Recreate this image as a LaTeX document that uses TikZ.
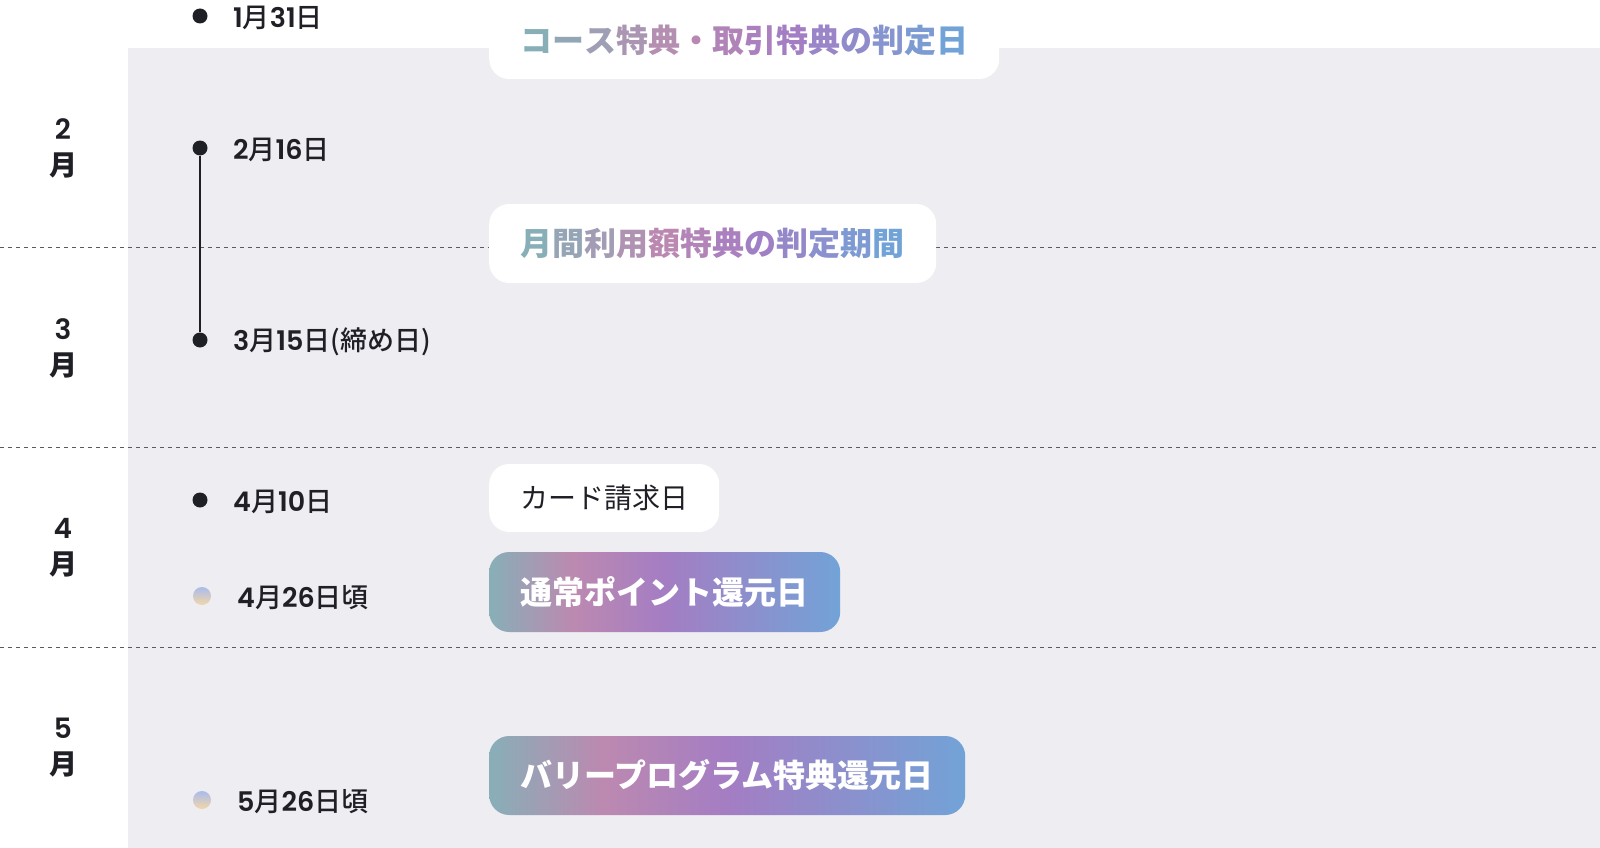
\documentclass[tikz,border=0pt]{standalone}
\usepackage{fontspec}
\setmainfont{Noto Sans CJK JP}
\newfontfamily\numfont{Poppins SemiBold}
\newfontfamily\jpmed{Noto Sans CJK JP Medium}
\usetikzlibrary{positioning}
\definecolor{bgray}{HTML}{EDEDF2}
\definecolor{ink}{HTML}{1F1F26}
\definecolor{sepgray}{HTML}{5A5A62}
\definecolor{gA}{HTML}{88AFB8}
\definecolor{gP}{HTML}{BC89B0}
\definecolor{gB}{HTML}{A47DC3}
\definecolor{gD}{HTML}{72A3D7}
\definecolor{dotT}{HTML}{A9BCEC}
\definecolor{dotM}{HTML}{E6B8D2}
\definecolor{dotB}{HTML}{F4D6A8}
\pgfdeclarehorizontalshading{barigrad}{100bp}{color(0bp)=(gA); color(25bp)=(gA); color(37bp)=(gP); color(50bp)=(gB); color(75bp)=(gD); color(100bp)=(gD)}
% colour each character along the gradient
\newcommand\gradtext[2]{\foreach \ch [count=\i] in {#2}{\pgfmathtruncatemacro\p{100*(\i-1)/(#1-1)}\ifnum\p<35 \pgfmathtruncatemacro\s{\p*100/35}\textcolor{gP!\s!gA}{\ch}\else\ifnum\p<60 \pgfmathtruncatemacro\s{(\p-35)*4}\textcolor{gB!\s!gP}{\ch}\else\pgfmathtruncatemacro\s{(\p-60)*5/2}\textcolor{gD!\s!gB}{\ch}\fi\fi}}
\newcommand\nm[1]{{\numfont\mdseries #1}}
\tikzset{datedot/.style={circle,fill=ink,inner sep=0pt,minimum size=15pt},
softdot/.style={circle,inner sep=0pt,minimum size=18pt,top color=dotT,middle color=dotM,bottom color=dotB},
datelbl/.style={anchor=west,inner sep=0pt,text=ink,font=\fontsize{27}{27}\selectfont\jpmed},
month/.style={align=center,inner sep=0pt,text=ink,font=\fontsize{28}{36}\selectfont\bfseries},
sepline/.style={sepgray,line width=0.9pt,dash pattern=on 4pt off 4pt},
timeline/.style={ink,line width=2pt},
whitebox/.style={fill=white,rounded corners=20pt,anchor=west,inner sep=0pt},
gradbox/.style={shade,shading=barigrad,rounded corners=20pt,anchor=west,inner sep=0pt,text=white,font=\fontsize{32}{32}\selectfont\bfseries},
gradlbl/.style={inner sep=0pt,font=\fontsize{32}{32}\selectfont\bfseries}}
\begin{document}
\begin{tikzpicture}[x=1pt,y=-1pt]
\useasboundingbox (0,0) rectangle (1600,848);
\clip (0,0) rectangle (1600,848);
\fill[bgray] (128,48) rectangle (1600,848);
%month separators
\foreach \y in {247,447,647} \draw[sepline] (0,\y) -- (1600,\y);

%months
\node[month] (feb) at (63,148) {\nm{2}\\月};
\node[month] (mar) at (63,348) {\nm{3}\\月};
\node[month] (apr) at (63,548) {\nm{4}\\月};
\node[month] (may) at (63,748) {\nm{5}\\月};

%dates
\node[datedot] (d0131) at (200,16) {};
\node[datelbl] (t0131) at (233,18) {\nm{1}月\nm{31}日};
\node[datedot] (d0216) at (200,148) {};
\node[datelbl] (t0216) at (233,150) {\nm{2}月\nm{16}日};
\node[datedot] (d0315) at (200,340) {};
\node[datelbl] (t0315) at (233,342) {\nm{3}月\nm{15}日(締め日)};
\draw[timeline] (d0216) -- (d0315);
\node[datedot] (d0410) at (200,500) {};
\node[datelbl] (t0410) at (233,502) {\nm{4}月\nm{10}日};
\node[softdot] (d0426) at (202,596) {};
\node[datelbl] (t0426) at (237,598) {\nm{4}月\nm{26}日頃};
\node[softdot] (d0526) at (202,800) {};
\node[datelbl] (t0526) at (237,802) {\nm{5}月\nm{26}日頃};

%events
\node[whitebox,minimum width=510pt,minimum height=130pt] (course) at (489,14) {};
\node[gradlbl] (coursetxt) at (course.center |- 0,40) {\gradtext{14}{コ,ー,ス,特,典,・,取,引,特,典,の,判,定,日}};
\node[whitebox,minimum width=447pt,minimum height=79pt] (monthly) at (489,243.5) {};
\node[gradlbl] (monthlytxt) at (monthly.center) {\gradtext{12}{月,間,利,用,額,特,典,の,判,定,期,間}};
\node[whitebox,minimum width=230pt,minimum height=68pt,text=ink,font=\fontsize{28}{28}\selectfont] (bill) at (489,498) {カード請求日};
\node[gradbox,minimum width=351pt,minimum height=80pt] (points) at (489,592) {通常ポイント還元日};
\node[gradbox,minimum width=476pt,minimum height=79pt] (bari) at (489,775.5) {バリープログラム特典還元日};
\end{tikzpicture}
\end{document}
